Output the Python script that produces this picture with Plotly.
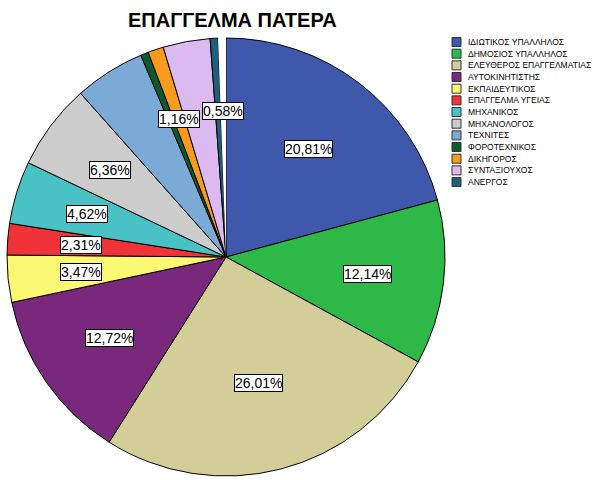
import math
import plotly.graph_objects as go

## Data (counts out of 173 answers).
occupations = ['ΙΔΙΩΤΙΚΟΣ ΥΠΑΛΛΗΛΟΣ', 'ΔΗΜΟΣΙΟΣ ΥΠΑΛΛΗΛΟΣ', 'ΕΛΕΥΘΕΡΟΣ ΕΠΑΓΓΕΛΜΑΤΙΑΣ',
               'ΑΥΤΟΚΙΝΗΤΙΣΤΗΣ', 'ΕΚΠΑΙΔΕΥΤΙΚΟΣ', 'ΕΠΑΓΓΕΛΜΑ ΥΓΕΙΑΣ', 'ΜΗΧΑΝΙΚΟΣ',
               'ΜΗΧΑΝΟΛΟΓΟΣ', 'ΤΕΧΝΙΤΕΣ', 'ΦΟΡΟΤΕΧΝΙΚΟΣ', 'ΔΙΚΗΓΟΡΟΣ',
               'ΣΥΝΤΑΞΙΟΥΧΟΣ', 'ΑΝΕΡΓΟΣ', ' ']
counts = [36, 21, 45, 22, 6, 4, 8, 11, 9, 1, 2, 6, 1, 1]
shown_labels = ['20,81%', '12,14%', '26,01%', '12,72%', '3,47%', '2,31%', '4,62%',
                '6,36%', '', '', '1,16%', '', '', '0,58%']
colors = ['#3E58AC', '#2EB848', '#D3CE98', '#7A287B', '#FBF873', '#EF3338', '#48C2C5',
          '#CCCCCC', '#7BAAD7', '#0E5A2B', '#F89A1E', '#DDB9F1', '#1E5F7A', '#FFFFFF']

W, H = 596, 480
cx, cy, rad = 226, 257, 219
FONT = 'Liberation Sans, Arial'

fig = go.Figure()
fig.add_trace(go.Pie(labels=occupations,
                     values=counts,
                     sort=False,
                     direction='clockwise',
                     rotation=0,
                     textinfo='none',
                     hoverinfo='label+percent',
                     showlegend=False,
                     domain=dict(x=[(cx - rad) / W, (cx + rad) / W],
                                 y=[(H - cy - rad) / H, (H - cy + rad) / H]),
                     marker=dict(colors=colors,
                                 line=dict(color='black',
                                           width=[1] * (len(counts) - 1) + [0]))))

## Percentage boxes placed near the centroid of each slice.
total = sum(counts)
cum = 0
for n, txt in zip(counts, shown_labels):
    half = n / total * math.pi
    mid = (cum + n / 2) / total * 2 * math.pi
    cum += n
    if not txt:
        continue
    r = rad * 2 * math.sin(half) / (3 * half)
    fig.add_annotation(x=(cx + r * math.sin(mid)) / W,
                       y=(H - cy + r * math.cos(mid)) / H,
                       xref='paper', yref='paper', xanchor='center', yanchor='middle',
                       text=txt, showarrow=False,
                       font=dict(family=FONT, size=14, color='black'),
                       bgcolor='white', bordercolor='black', borderwidth=1, borderpad=0)

## Compact legend, like the SPSS one (plotly's own legend rows are too tall).
leg_x, leg_y, step, box = 452, 42, 11.67, 9
for i, (name, col) in enumerate(zip(occupations[:-1], colors[:-1])):
    yc = leg_y + i * step
    fig.add_shape(type='rect', xref='paper', yref='paper',
                  x0=leg_x / W, x1=(leg_x + box) / W,
                  y0=(H - yc - box / 2) / H, y1=(H - yc + box / 2) / H,
                  fillcolor=col, line=dict(color='#333333', width=1))
    fig.add_annotation(x=(leg_x + box + 5) / W, y=(H - yc) / H,
                       xref='paper', yref='paper', xanchor='left', yanchor='middle',
                       text=name, showarrow=False,
                       font=dict(family=FONT, size=8.5, color='black'))

## Title
fig.add_annotation(x=232 / W, y=1 - 20 / H, xref='paper', yref='paper',
                   xanchor='center', yanchor='middle', showarrow=False,
                   text='<b>ΕΠΑΓΓΕΛΜΑ ΠΑΤΕΡΑ</b>',
                   font=dict(family=FONT, size=20, color='black'))

fig.update_layout(width=W, height=H,
                  margin=dict(l=0, r=0, t=0, b=0),
                  paper_bgcolor='white', plot_bgcolor='white',
                  font=dict(family=FONT))

## drop the page's default body margin so the figure sits at the window corner
fig.write_html("out.html", config={'displayModeBar': False},
               post_script="document.body.style.margin='0';")
